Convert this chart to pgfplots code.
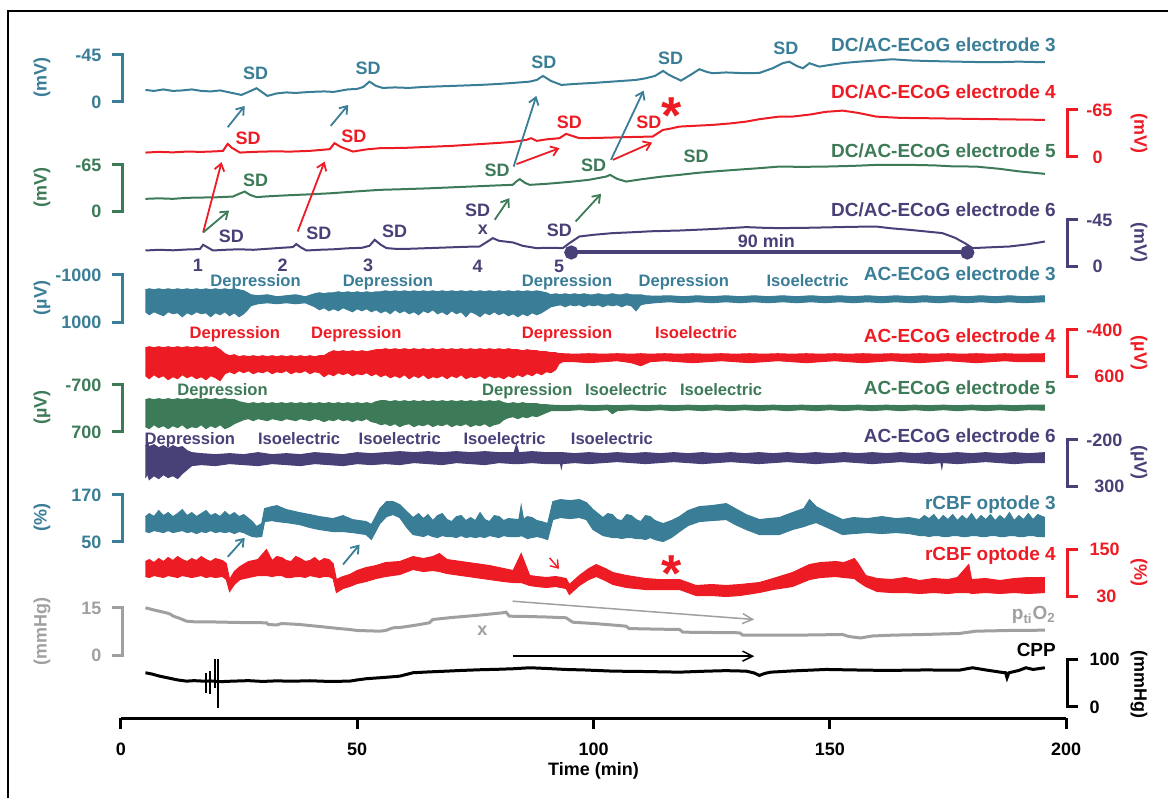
\documentclass[border=0pt]{standalone}
\usepackage{fontspec}
\setmainfont{Liberation Sans}
\usepackage{pgfplots}
\usepackage{pgfplotstable}
\pgfplotsset{compat=1.18}
\usepgfplotslibrary{fillbetween}
\usetikzlibrary{arrows.meta}

\definecolor{cteal}{HTML}{3A7D96}
\definecolor{cred}{HTML}{ED1C24}
\definecolor{cgreen}{HTML}{3D7A57}
\definecolor{cpurp}{HTML}{474177}
\definecolor{cgray}{HTML}{A0A0A0}

\tikzset{
  txt/.style={inner sep=0pt, text height=6.45pt, text depth=0pt, font=\bfseries\fontsize{9}{10}\selectfont},
  nm/.style={inner sep=0pt, text height=6.8pt, text depth=0pt, anchor=east, font=\bfseries\fontsize{9.5}{11}\selectfont},
  st/.style={inner sep=0pt, text height=5.95pt, text depth=0pt, font=\bfseries\fontsize{8.3}{10}\selectfont},
  arr/.style={-{Straight Barb[length=3.5pt,width=5pt]}, line width=0.9pt},
}
% scale bars: top y, bottom y, colour
\newcommand\lbr[3]{\draw[#3, line width=1.5pt, line join=miter] (axis cs:-1.97,#1) -- (axis cs:0.36,#1) -- (axis cs:0.36,#2) -- (axis cs:-1.97,#2);}
\newcommand\rbr[3]{\draw[#3, line width=1.5pt, line join=miter] (axis cs:202.6,#1) -- (axis cs:200.27,#1) -- (axis cs:200.27,#2) -- (axis cs:202.6,#2);}

% AC-ECoG envelopes (x in min, upper / lower edge in trace units)
\pgfplotstableread{
x up lo
5.2 510 488
6 511 485
7 510 488
8 511 486
9 510 484
10 511 488
11 510 486
12 511 487
13 510 483
14 511 487
15 510 485
16 511 488
17 510 486
18 511 487
19 510 483
20 511 487
21 510 485
22 511 488
23 510 484
24 511 487
25 510 483
26 509 486
26.8 507 490
27.5 505 494
29 504 496
31 505 497
33 503 496
35 504 497
37 505 496
39 503 497
41 506 493
42 507 490
43 506 492
44 507 489
45 507 491
46 508 489
47 507 492
48 508 490
49 507 488
50 508 491
51 507 489
52 508 491
53 507 488
54 508 490
55 508 487
56 509 489
57 508 486
58 509 490
59 508 487
60 509 489
61 508 486
62 509 488
63 508 485
64 509 489
65 508 487
66 509 490
67 508 486
68 509 488
69 508 485
70 509 489
71 508 486
72 509 488
73 508 483
74 509 488
75 508 486
76 509 483
77 508 487
78 509 485
79 508 488
80 509 485
81 508 487
82 509 484
83 508 486
84 509 483
85 508 486
86 509 484
87 508 487
88 509 485
89 508 487
90 507 490
91 505 493
92 506 494
93 505 495
94 506 493
95 505 495
96 506 494
97 505 495
98 506 493
99 505 495
100 505 494
101 506 495
102 505 493
103 505 495
104 506 494
105 505 495
106 505 493
107 506 495
108 505 494
109 505 489
110 505 495
111 504 496
113 503.5 497
116 504 498
119 503 497
122 504 498
125 503 497
128 504 498
131 503 497
134 504 498
137 503 497
140 504 498
143 503 497
146 504 498
149 503 497
152 504 498
155 503 497
158 504 498
161 503 497
164 504 498
167 503 497
170 504 498
173 503 497
176 504 498
179 503 497
182 504 498
185 503 497
188 504 498
191 503 497
195.5 504 498
}\acthree

\pgfplotstableread{
x up lo
5.2 452 424
6 453 421
7 452 425
8 453 422
9 452 424
10 453 420
11 452 423
12 453 421
13 452 425
14 453 422
15 452 424
16 453 421
17 452 423
18 453 420
19 452 424
20 453 422
21 450 419
22 446 426
23 444 428
24 445 426
25 443 429
26 444 427
27 443 429
28 444 426
29 443 428
30 444 427
31 443 429
32 444 426
33 443 428
34 444 427
35 443 429
36 444 426
37 443 428
38 444 427
39 443 429
40 444 426
41 443 428
42 444 427
43 444 423
44 447 426
45 449 424
46 448 427
47 449 425
48 448 427
49 449 424
50 448 426
51 449 425
52 448 427
53 449 424
54 450 426
55 450 423
56 451 425
57 450 422
58 451 424
59 450 422
60 451 425
61 450 421
62 451 424
63 450 422
64 451 425
65 450 421
66 451 423
67 450 422
68 451 424
69 450 421
70 451 424
71 450 422
72 451 425
73 450 421
74 451 423
75 450 422
76 451 424
77 450 421
78 451 424
79 450 422
80 451 423
81 450 421
82 451 424
83 450 422
84 450 425
85 449 423
86 450 426
87 449 424
88 449 427
89 448 425
90 448 428
91 447 427
92 447 430
92.7 446 436
93.5 446 438
96 445.5 438
99 446 437
102 445.5 438
105 446 439
108 445.5 437
110 446 434
112 445.5 438
115 446 439
118 445.5 438
121 446 437
124 445.5 438
127 446 439
130 445.5 438
133 446 437
136 445.5 438
139 446 439
142 445.5 438
145 446 437
148 445.5 438
151 446 439
154 445.5 438
157 446 437
160 445.5 438
163 446 439
166 445.5 438
169 446 437
172 445.5 438
175 446 439
178 445.5 438
181 446 437
184 445.5 438
187 446 439
190 445.5 438
195.5 446 438
}\acfour

\pgfplotstableread{
x up lo
5.2 400 373
6 401 371
7 400 375
8 401 372
9 400 374
10 401 371
11 400 374
12 401 372
13 400 375
14 401 371
15 400 373
16 401 372
17 400 375
18 401 371
19 400 374
20 401 372
21 400 375
22 401 371
23 400 373
24 400 376
25 398 378
26 397 380
27 396 381
28 397 379
29 396 381
30 397 380
31 396 379
32 397 381
33 396 380
34 397 379
35 396 381
36 397 380
37 396 379
38 397 381
39 396 380
40 397 379
41 396 381
42 397 380
43 396 378
44 397 380
45 396 379
46 397 381
47 396 379
48 397 380
49 396 378
50 397 380
51 396 379
52 397 381
53 396 378
54 398 377
55 399 375
56 399 376
57 398 374
58 399 376
59 398 373
60 399 375
61 398 376
62 399 373
63 398 375
64 399 374
65 398 376
66 399 373
67 398 375
68 399 374
69 398 376
70 399 373
71 398 375
72 399 374
73 398 376
74 399 373
75 398 375
76 399 374
77 398 376
78 399 373
79 398 375
80 399 376
81 397 380
82 396 382
83 397 383
84 396 381
85 397 383
86 396 382
87 396 384
88 396 383
89 395 385
90 395 387
91 394.5 389
94 394 389
97 394.5 390
100 394 389
103 394.5 390
104 394 386
105 394 389
108 394.5 390
111 394 389
114 394.5 390
117 394 389
120 394.5 390
123 394 389
126 394.5 390
129 394 389
132 394.5 390
135 394 389
138 394.5 390
141 394 389
144 394.5 390
147 394 389
150 394.5 390
153 394 389
156 394.5 390
159 394 389
162 394.5 390
165 394 389
168 394.5 390
171 394 389
174 394.5 390
177 394 389
180 394.5 390
183 394 389
186 394.5 390
189 394 389
192 394.5 390
195.5 394.5 389.5
}\acfive

\pgfplotstableread{
x up lo
5.2 354 322
5.6 357 326
6 353 320
7 355 324
8 352 321
9 354 325
10 351 322
11 354 324
12 352 321
13 353 326
14 349 330
15 347 334
17 346 335
20 345 334
23 346 336
26 345 335
29 347 334
32 345 336
35 346 335
38 345 334
41 347 336
44 346 335
47 345 334
50 347 336
53 346 335
56 347 336
59 348 335
62 347 337
65 348 336
68 347 335
71 348 337
74 347 336
77 348 335
80 347 337
83.2 347 336
83.7 355 336
84.2 347 336
87 348 337
90 347 336
93 347 336
93.2 347 331.5
93.4 347 336
96 346 337
99 347 336
102 346 337
105 347 338
108 346 337
111 347 336
114 346 337
117 347 338
120 346 337
123 347 336
126 346 337
129 347 338
132 346 337
135 347 336
138 346 337
141 347 338
144 346 337
147 347 336
150 346 337
153 347 338
156 346 337
159 347 336
162 346 337
165 347 338
168 346 337
171 347 336
173.5 346 337
173.7 346 331.5
173.9 346 337
177 347 336
180 346 337
183 347 338
186 346 337
189 347 336
192 346 337
195.5 347 337
}\acsix

% rCBF envelopes
\pgfplotstableread{
x up lo
5.2 283 268
6 286 267
7 283 269
8 289 268
9 284 267
10 287 269
11 283 267
12 286 268
13 290 269
14 284 267
15 287 268
16 283 266
17 286 268
18 289 267
19 284 269
20 286 267
21 283 268
22 288 267
23 284 268
24 287 266
25 283 268
26 285 267
26.8 282 265
27.8 278 263
28.7 273 262.5
29.8 276 263
30.4 291 278
32 293 279
33 294 278
35 290 277
37.8 287 275
40 285 272
42 283 270
44.9 281 268
47 284 268
49 280 267
51.9 278 265
53 275 260
54.8 291 276
56.2 298 283
57.6 298 285
59 295 282
60.5 288 272
61.8 282 265
63 286 264
64 281 263
65 285 265
66 279 263
67 284 262
68 286 264
69 280 263
70 278 263
71 283 262
72 284 264
73 279 262
74 282 263
75 279 262
76 287 263
77 280 262
78 278 264
79 284 263
80 283 262
81 279 264
82 281 263
84.2 280 263
84.7 294 264
85.2 280 263
86 283 261
87 282 262
88 279 263
89 278 262
90.3 276 260
91.4 298 280
93 300 282
95 299 281
97 300 282
98.5 297 280
99.9 290 270
102 282 264
103 286 263
104 285 262
105 280 262
106 279 261
107 285 262
108 284 262
109 280 261
110 278 261
111 284 260
112 283 262
113 279 260
114.7 276 258
116.5 279 262
118.2 283 268
120 289 274
122.4 293 278
125 294 279
128.1 296 280
130 291 275
132.3 285 270
135.1 280 265
137 281 265
139.3 282 265
142.1 287 270
144.5 291 273
145.7 300 275
147.1 293 277
149.5 287 272
152.7 280 265
155 282 266
158 281 267
161 283 266
164 281 267
166.8 282 266
169 280 264
170 284 264
171 281 263
172 285 264
173 279 264
174 284 263
175 280 263
176 285 264
177 279 264
178 284 263
179 280 263
180 286 264
181 279 264
182 284 263
183 280 263
184 285 264
185 279 264
186 284 263
187 280 263
188 287 264
189 279 264
190 284 263
191 280 263
192 286 264
193 280 264
194 285 263
195.5 282 263
}\cbfthree

\pgfplotstableread{
x up lo
5.2 238 223
6 240 222
7 237 224
8 241 223
9 238 222
10 242 224
11 239 223
12 243 222
13 240 224
14 238 223
15 241 222
16 239 223
17 243 224
18 240 222
19 238 223
20 241 222
21.5 239 223
22.3 236 220
23 220 208
24 228 215
25.2 233 220
27 238 222
29 240 224
30.8 250 224
32 239 223
33 243 224
34 242 224
35 239 222
36 238 222
37 243 223
38 241 223
39 238 222
40 239 224
41 242 223
42 238 222
43 241 223
44 240 223
44.9 236 221
45.6 220 207
47 223 211
48.4 225 213
50 229 216
51.9 232 218
54 234 221
56 237 223
59 238 225
61.8 243 230
64 241 228
66 243 229
67.4 246 228
69 240 226
72 238 224
75 236 222
78 234 220
81 231 218
83 229 217
84.7 246 217
86.5 224 214
88 223 213
90 222 212
92 223 213
94.2 221 211
94.9 215 205
97 224 214
99 231 220
100.6 235 223
102.5 231 219
104.1 227 215
107 224 212
111 221 210
114 220 210
118.2 220 210
121.7 214 204
125 215 204
128 214 203
131 215 204
135.1 217 207
138 221 210
142.1 227 213
145.7 235 220
148 237 222
151.3 238 223
153 237 222
155.2 241 221
156 236 218
157.6 224 213
160 221 208
163 220 207
166 222 207
169 219 206
172 221 207
175 220 206
177 222 207
179.4 235 207
180 220 206
183 221 207
186 219 206
189 221 207
192 222 206
195.5 222 207
}\cbffour

\begin{document}
\begin{tikzpicture}
\begin{axis}[
  x=2.365pt, y=0.5pt,
  xmin=0, xmax=200, ymin=81, ymax=789,
  axis x line=bottom, axis y line=none,
  axis line style={-, line width=1.5pt},
  xtick={0,50,100,150,200},
  xtick align=outside,
  major tick length=5.5pt,
  x tick style={line width=1.5pt, black},
  /pgf/number format/assume math mode=true,
  xticklabel style={font=\bfseries\fontsize{9}{10}\selectfont, inner sep=0pt, text height=6.45pt, text depth=0pt, anchor=north},
  xticklabel shift=6.25pt,
  xlabel={Time (min)},
  xlabel style={font=\bfseries\fontsize{9}{10}\selectfont, inner sep=0pt, text height=6.45pt, text depth=0pt,
    at={(axis description cs:0.5,0)}, anchor=center, yshift=-25.5pt},
  clip=false,
]
% picture area and frame
\path (axis cs:-25.58,1) rectangle (axis cs:221.56,800);
\draw[line width=1pt] (axis cs:-23.89,1) -- (axis cs:-23.89,789) -- (axis cs:221.56,789);

% DC/AC-ECoG traces
\addplot[cteal, line width=1pt] coordinates {(5.2,710) (7,709) (9,710.5) (11,709) (13,709.5) (15,710.5) (17,709) (19,708.5) (21,709.5) (23,707.5) (25.5,705) (27,708) (28.7,711.7) (29.8,708) (31,704) (33,706.5) (35,707.5) (37,707) (40,708) (43,708.5) (45,708) (48,710.5) (50,711) (51.3,713) (52.6,718.3) (54,714) (55.4,712) (58,712.5) (61,712) (64,713) (67,713.5) (70,714) (73,714.5) (76,715) (80,716) (83,717) (86.5,718.3) (88,720) (89.3,724) (91,719) (93.2,715) (96,716) (100,717) (103,718) (106,719) (109,720) (111.1,721.7) (113,724) (114.7,729) (116,725) (118.5,719.3) (120.5,725) (122.4,730.7) (124,728) (125.2,726.7) (128,727.5) (132.3,726.7) (135.1,727) (137.9,731.7) (140,736.7) (141.4,738.3) (143,734) (144.3,731.7) (145.7,736.7) (147.8,733.3) (150,735) (153,737) (156.2,738.3) (160,739.5) (163.2,740.7) (167,739.5) (170.3,739) (175,738.5) (180,738) (184.4,737.7) (190,738.3) (195.5,737.7)};
\addplot[cred, line width=1pt] coordinates {(5.2,647.3) (8,648) (11,647.5) (14,648.3) (17,648) (20,648.5) (21.6,649) (22.6,656) (23.5,652) (25.2,647.3) (28,648) (32,648.5) (36,648.3) (40,649) (44.2,650.7) (45.2,656.7) (46.5,653) (49.1,648.3) (52,650.5) (54.8,651.7) (60,652) (65,653) (70,654) (75,655.5) (80,657) (83,658) (85.8,660) (86.8,661.7) (88,659) (90,660.5) (92.8,661.7) (94.2,666) (95.5,664) (97,661.7) (101,662) (105,662.5) (109,663) (112.5,663.3) (114.7,670) (116,671) (118.2,673.3) (121,674) (125.2,675) (129,676.5) (132.3,678.3) (135.1,680.7) (139.3,683.3) (142.1,683.3) (146,685.5) (149,688) (152.7,689.3) (156,687) (159.8,683.3) (165,682) (170.3,681.7) (180,681) (188,680.5) (195.5,680)};
\addplot[cgreen, line width=1pt] coordinates {(5.2,601) (8,601.5) (11,601) (14,602) (17,602.3) (20,602.5) (23.7,603.3) (25,606) (26.2,608.3) (27.3,605) (28.7,602.7) (31,603.5) (35,604.5) (40,605.5) (44.8,606.7) (50,608.5) (54.8,610) (60,610.7) (65,611.5) (70,612.5) (75,613.5) (80,614.5) (82.9,615) (83.7,618.5) (84.4,620.7) (85.5,617) (86.5,615) (90,616) (95,618) (99,620) (102.7,623.3) (103.5,625) (105,621) (106.9,618.3) (110,620.5) (114,623) (118.2,625) (122,627) (125.2,628.3) (130,630) (135.1,631.7) (139.3,633.3) (144,633) (149.2,633.3) (155,634) (160,635) (166.8,635) (172,634.5) (176,633.5) (180.9,633.3) (186,631) (190,628.5) (195.5,626)};
\addplot[cpurp, line width=1pt] coordinates {(5.2,549.3) (8,550) (11,549.5) (14,550.3) (16.7,550.7) (17.4,555) (18.5,552) (19.5,549.3) (22,550) (25,550.5) (28,550) (31,551) (34,552) (36.4,552.7) (37.1,555.7) (38.2,552) (39.3,549.3) (42,550) (45,550.5) (48,551.5) (51,552) (52.6,554) (53.7,560) (55,555) (56.2,551.7) (58,551) (61,551) (64,551.5) (67,552) (70,552.5) (73,553) (75.9,553.3) (77.5,558) (78.7,561.7) (80,559) (83,557.3) (85,554) (87.9,551.7) (91,552) (93.5,551.7) (95,557) (97,563.3) (100,565) (104.1,566.7) (108,567.5) (112,568.5) (118.2,569.3) (124,570.5) (128,571.5) (132.3,572.7) (136,572) (139.3,571.7) (145,572) (150,572.5) (155,573) (159.8,573.3) (163,571.5) (166.8,570) (170,568.5) (173.8,566.7) (176.5,562) (178.8,556) (180.2,551.7) (184,552.5) (188,553.3) (192,555.5) (195.5,558.3)};
% 90 min bar
\addplot[cpurp, line width=2pt, mark=*, mark size=2.5pt] coordinates {(95.3,547.3) (179.1,547.3)};

% AC-ECoG bands
\addplot[cteal, line width=0.5pt, name path=a3u] table[x=x,y=up]{\acthree};
\addplot[cteal, line width=0.5pt, name path=a3l] table[x=x,y=lo]{\acthree};
\addplot[cteal] fill between[of=a3u and a3l];
\addplot[cred, line width=0.5pt, name path=a4u] table[x=x,y=up]{\acfour};
\addplot[cred, line width=0.5pt, name path=a4l] table[x=x,y=lo]{\acfour};
\addplot[cred] fill between[of=a4u and a4l];
\addplot[cgreen, line width=0.5pt, name path=a5u] table[x=x,y=up]{\acfive};
\addplot[cgreen, line width=0.5pt, name path=a5l] table[x=x,y=lo]{\acfive};
\addplot[cgreen] fill between[of=a5u and a5l];
\addplot[cpurp, line width=0.5pt, name path=a6u] table[x=x,y=up]{\acsix};
\addplot[cpurp, line width=0.5pt, name path=a6l] table[x=x,y=lo]{\acsix};
\addplot[cpurp] fill between[of=a6u and a6l];

% rCBF bands
\addplot[cteal, line width=0.5pt, name path=c3u] table[x=x,y=up]{\cbfthree};
\addplot[cteal, line width=0.5pt, name path=c3l] table[x=x,y=lo]{\cbfthree};
\addplot[cteal] fill between[of=c3u and c3l];
\addplot[cred, line width=0.5pt, name path=c4u] table[x=x,y=up]{\cbffour};
\addplot[cred, line width=0.5pt, name path=c4l] table[x=x,y=lo]{\cbffour};
\addplot[cred] fill between[of=c4u and c4l];

% ptiO2
\addplot[cgray, line width=1.5pt] coordinates {(5.2,191.7) (7,189.5) (9.6,186.7) (10.4,185.5) (11.1,183.3) (12.5,181) (13.9,178.3) (16,177.5) (20,177.5) (25,177) (30.8,176.7) (31.2,175) (33,174.5) (34,176) (37.8,175) (42,173) (46,171) (48.4,170) (50,169) (54.8,168.3) (56,169) (57.6,171.7) (59,172) (62,174) (65.3,176.7) (66,180) (70,182) (75,184) (80.8,186.7) (81.5,187.3) (82.2,183.3) (86,183) (90,182.5) (94.2,181.7) (95.6,177.3) (100,176) (104,174.5) (106.9,173.3) (107.5,171) (109.7,170.7) (114,170.3) (118.2,170) (118.9,167.3) (125,167) (130.9,166.7) (131.6,164.3) (139.3,164.3) (146,164.5) (152.7,165) (154,163) (156.5,161.5) (159,163.5) (163.2,164.3) (170,165) (177.4,166) (180.9,168.3) (188,169) (195.5,169.3)};
% CPP
\addplot[black, line width=1.5pt] coordinates {(5.2,126.7) (6.5,125.5) (8.2,123.3) (10,121.5) (12,119.5) (13.9,118.3) (15.5,118.8) (17.5,118.3) (19,118.5) (21,117.8) (23.7,118.3) (27,118.8) (30,118) (33,118.6) (36,118.2) (40,118.7) (44,118) (48.4,118.3) (50,119.5) (51.9,120.7) (54.8,121.7) (57,122.5) (59,123.3) (61.8,126.7) (65,127.5) (68.9,128.3) (72,129) (76,129.7) (80,130.2) (83,130.7) (86.5,131.7) (90,131) (94,130) (98,129.5) (104.1,128.3) (110,128) (118.2,127.3) (124,128.3) (128,128.8) (132.3,128.3) (134,126.5) (135.1,124) (136.2,126) (137.5,127.3) (142,128.5) (149.2,130) (155,129.5) (162,129) (170,129.5) (177.4,129.3) (180.2,131.7) (183,129.5) (186.5,127) (187.2,126.7) (187.5,121.7) (187.9,126.7) (190,129) (191.5,131.7) (193,130) (195.5,131.7)};
\addplot[black, line width=0.8pt] coordinates {(18.0,126.7) (18.0,106.7)};
\addplot[black, line width=0.8pt] coordinates {(18.8,128.3) (18.8,105)};
\addplot[black, line width=0.8pt] coordinates {(19.9,140) (19.9,111.7)};
\addplot[black, line width=0.8pt] coordinates {(20.6,140) (20.6,91.7)};

% scale bars, left
\lbr{745}{698.3}{cteal}
\lbr{635}{588.3}{cgreen}
\lbr{525}{477.7}{cteal}
\lbr{415}{367.7}{cgreen}
\lbr{305}{257.7}{cteal}
\lbr{191.7}{144.3}{cgray}
\node[txt, cteal, anchor=east] at (axis cs:-4.02,745) {-45};
\node[txt, cteal, anchor=east] at (axis cs:-4.02,698.3) {0};
\node[txt, cgreen, anchor=east] at (axis cs:-4.02,635) {-65};
\node[txt, cgreen, anchor=east] at (axis cs:-4.02,588.3) {0};
\node[txt, cteal, anchor=east] at (axis cs:-4.02,525) {-1000};
\node[txt, cteal, anchor=east] at (axis cs:-4.02,477.7) {1000};
\node[txt, cgreen, anchor=east] at (axis cs:-4.02,415) {-700};
\node[txt, cgreen, anchor=east] at (axis cs:-4.02,367.7) {700};
\node[txt, cteal, anchor=east] at (axis cs:-4.02,305) {170};
\node[txt, cteal, anchor=east] at (axis cs:-4.02,257.7) {50};
\node[txt, cgray, anchor=east] at (axis cs:-4.02,191.7) {15};
\node[txt, cgray, anchor=east] at (axis cs:-4.02,144.3) {0};
\node[txt, cteal, rotate=90] at (axis cs:-17.1,722) {(mV)};
\node[txt, cgreen, rotate=90] at (axis cs:-17.1,612) {(mV)};
\node[txt, cteal, rotate=90] at (axis cs:-17.1,501.7) {(µV)};
\node[txt, cgreen, rotate=90] at (axis cs:-17.1,392) {(µV)};
\node[txt, cteal, rotate=90] at (axis cs:-17.1,282) {(\%)};
\node[txt, cgray, rotate=90] at (axis cs:-17.1,168) {(mmHg)};

% scale bars, right
\rbr{690}{643.3}{cred}
\rbr{580}{533.3}{cpurp}
\rbr{470}{423.3}{cred}
\rbr{360}{313.3}{cpurp}
\rbr{250}{203.3}{cred}
\rbr{140}{92.7}{black}
\node[txt, cred, anchor=west] at (axis cs:204.2,690) {-65};
\node[txt, cred, anchor=west] at (axis cs:205.5,643.3) {0};
\node[txt, cpurp, anchor=west] at (axis cs:204.2,580) {-45};
\node[txt, cpurp, anchor=west] at (axis cs:205.5,533.3) {0};
\node[txt, cred, anchor=west] at (axis cs:204.2,470) {-400};
\node[txt, cred, anchor=west] at (axis cs:205.9,423.3) {600};
\node[txt, cpurp, anchor=west] at (axis cs:204.2,360) {-200};
\node[txt, cpurp, anchor=west] at (axis cs:205.9,313.3) {300};
\node[txt, cred, anchor=west] at (axis cs:204.9,250) {150};
\node[txt, cred, anchor=west] at (axis cs:206.3,203.3) {30};
\node[txt, black, anchor=west] at (axis cs:204.9,140) {100};
\node[txt, black, anchor=west] at (axis cs:204.9,92.7) {0};
\node[txt, cred, rotate=-90] at (axis cs:215.8,666.7) {(mV)};
\node[txt, cpurp, rotate=-90] at (axis cs:215.8,557) {(mV)};
\node[txt, cred, rotate=-90] at (axis cs:215.8,446.7) {(µV)};
\node[txt, cpurp, rotate=-90] at (axis cs:215.8,337) {(µV)};
\node[txt, cred, rotate=-90] at (axis cs:215.8,226.7) {(\%)};
\node[txt, black, rotate=-90] at (axis cs:215.8,115) {(mmHg)};

% trace names
\node[nm, cteal] at (axis cs:197.9,755) {DC/AC-ECoG electrode 3};
\node[nm, cred] at (axis cs:197.9,708.3) {DC/AC-ECoG electrode 4};
\node[nm, cgreen] at (axis cs:197.9,649) {DC/AC-ECoG electrode 5};
\node[nm, cpurp] at (axis cs:197.9,590) {DC/AC-ECoG electrode 6};
\node[nm, cteal] at (axis cs:197.9,526) {AC-ECoG electrode 3};
\node[nm, cred] at (axis cs:197.9,464) {AC-ECoG electrode 4};
\node[nm, cgreen] at (axis cs:197.9,411.7) {AC-ECoG electrode 5};
\node[nm, cpurp] at (axis cs:197.9,364) {AC-ECoG electrode 6};
\node[nm, cteal] at (axis cs:197.9,296.7) {rCBF optode 3};
\node[nm, cred] at (axis cs:197.9,246) {rCBF optode 4};
\node[nm, cgray] at (axis cs:197.9,186.7) {p\textsubscript{ti}O\textsubscript{2}};
\node[nm, black] at (axis cs:197.9,150) {CPP};

% SD labels
\node[txt, cteal] at (axis cs:28.5,726.7) {SD};
\node[txt, cteal] at (axis cs:52.3,731.7) {SD};
\node[txt, cteal] at (axis cs:89.5,738.3) {SD};
\node[txt, cteal] at (axis cs:116.3,741.7) {SD};
\node[txt, cteal] at (axis cs:140.7,751.7) {SD};
\node[txt, cred] at (axis cs:26.9,661.7) {SD};
\node[txt, cred] at (axis cs:49.3,664) {SD};
\node[txt, cred] at (axis cs:94.9,678.3) {SD};
\node[txt, cred] at (axis cs:111.7,678.3) {SD};
\node[inner sep=0pt, cred, font=\bfseries\fontsize{26}{26}\selectfont] at (axis cs:116.6,684) {*};
\node[txt, cgreen] at (axis cs:28.5,620) {SD};
\node[txt, cgreen] at (axis cs:79.6,630) {SD};
\node[txt, cgreen] at (axis cs:100,635) {SD};
\node[txt, cgreen] at (axis cs:121.7,644) {SD};
\node[txt, cpurp] at (axis cs:23.4,564) {SD};
\node[txt, cpurp] at (axis cs:41.9,566.7) {SD};
\node[txt, cpurp] at (axis cs:57.9,568.3) {SD};
\node[txt, cpurp] at (axis cs:75.5,590) {SD};
\node[txt, cpurp] at (axis cs:76.6,571.7) {x};
\node[txt, cpurp] at (axis cs:92.8,570) {SD};
\node[txt, cpurp] at (axis cs:16.3,535) {1};
\node[txt, cpurp] at (axis cs:34.2,535) {2};
\node[txt, cpurp] at (axis cs:52.3,535) {3};
\node[txt, cpurp] at (axis cs:75.5,534) {4};
\node[txt, cpurp] at (axis cs:92.7,534) {5};
\node[txt, cpurp] at (axis cs:136.6,558.3) {90 min};

% propagation arrows
\draw[arr, cteal] (axis cs:22.6,672.7) -- (axis cs:26.2,694);
\draw[arr, cteal] (axis cs:44.4,674) -- (axis cs:48.1,695);
\draw[arr, cred] (axis cs:17.4,567.3) -- (axis cs:21.3,637.7);
\draw[arr, cgreen] (axis cs:17.4,567.3) -- (axis cs:22.9,589.3);
\draw[arr, cred] (axis cs:37.4,568.3) -- (axis cs:43.1,638.3);
\draw[arr, cteal] (axis cs:83.1,633.3) -- (axis cs:87.9,704);
\draw[arr, cred] (axis cs:83.7,635.7) -- (axis cs:92.8,651.7);
\draw[arr, cteal] (axis cs:103.7,640) -- (axis cs:110.6,709.3);
\draw[arr, cred] (axis cs:104.1,640) -- (axis cs:112.4,657.3);
\draw[arr, cgreen] (axis cs:79.1,580) -- (axis cs:82.2,601.7);
\draw[arr, cgreen] (axis cs:96.2,578.3) -- (axis cs:101.6,606);

% AC-ECoG state labels
\node[st, cteal] at (axis cs:28.5,519.3) {Depression};
\node[st, cteal] at (axis cs:56.5,519.3) {Depression};
\node[st, cteal] at (axis cs:94.4,519.3) {Depression};
\node[st, cteal] at (axis cs:119.1,519.3) {Depression};
\node[st, cteal] at (axis cs:145.3,519.3) {Isoelectric};
\node[st, cred] at (axis cs:24.1,467.3) {Depression};
\node[st, cred] at (axis cs:49.8,467.3) {Depression};
\node[st, cred] at (axis cs:94.4,467.3) {Depression};
\node[st, cred] at (axis cs:121.7,467.3) {Isoelectric};
\node[st, cgreen] at (axis cs:21.5,410) {Depression};
\node[st, cgreen] at (axis cs:86,410) {Depression};
\node[st, cgreen] at (axis cs:106.9,410) {Isoelectric};
\node[st, cgreen] at (axis cs:127,410) {Isoelectric};
\node[st, cpurp] at (axis cs:14.6,361) {Depression};
\node[st, cpurp] at (axis cs:37.7,361) {Isoelectric};
\node[st, cpurp] at (axis cs:59,361) {Isoelectric};
\node[st, cpurp] at (axis cs:81.2,361) {Isoelectric};
\node[st, cpurp] at (axis cs:103.9,361) {Isoelectric};

% rCBF / ptiO2 / CPP annotations
\draw[arr, cteal] (axis cs:22.6,242.7) -- (axis cs:26.2,261.7);
\draw[arr, cteal] (axis cs:47,235) -- (axis cs:50.5,255);
\draw[arr, cred, line width=0.7pt] (axis cs:90.7,241.7) -- (axis cs:92.7,230.7);
\node[inner sep=0pt, cred, font=\bfseries\fontsize{26}{26}\selectfont] at (axis cs:116.6,226) {*};
\node[txt, cgray] at (axis cs:76.5,170) {x};
\draw[-{Straight Barb[length=5pt,width=5pt]}, cgray, line width=0.75pt] (axis cs:82.9,198.3) -- (axis cs:134,180);
\draw[-{Straight Barb[length=5pt,width=5pt]}, black, line width=0.75pt] (axis cs:82.9,143.3) -- (axis cs:134,143.3);
\end{axis}
\end{tikzpicture}
\end{document}
